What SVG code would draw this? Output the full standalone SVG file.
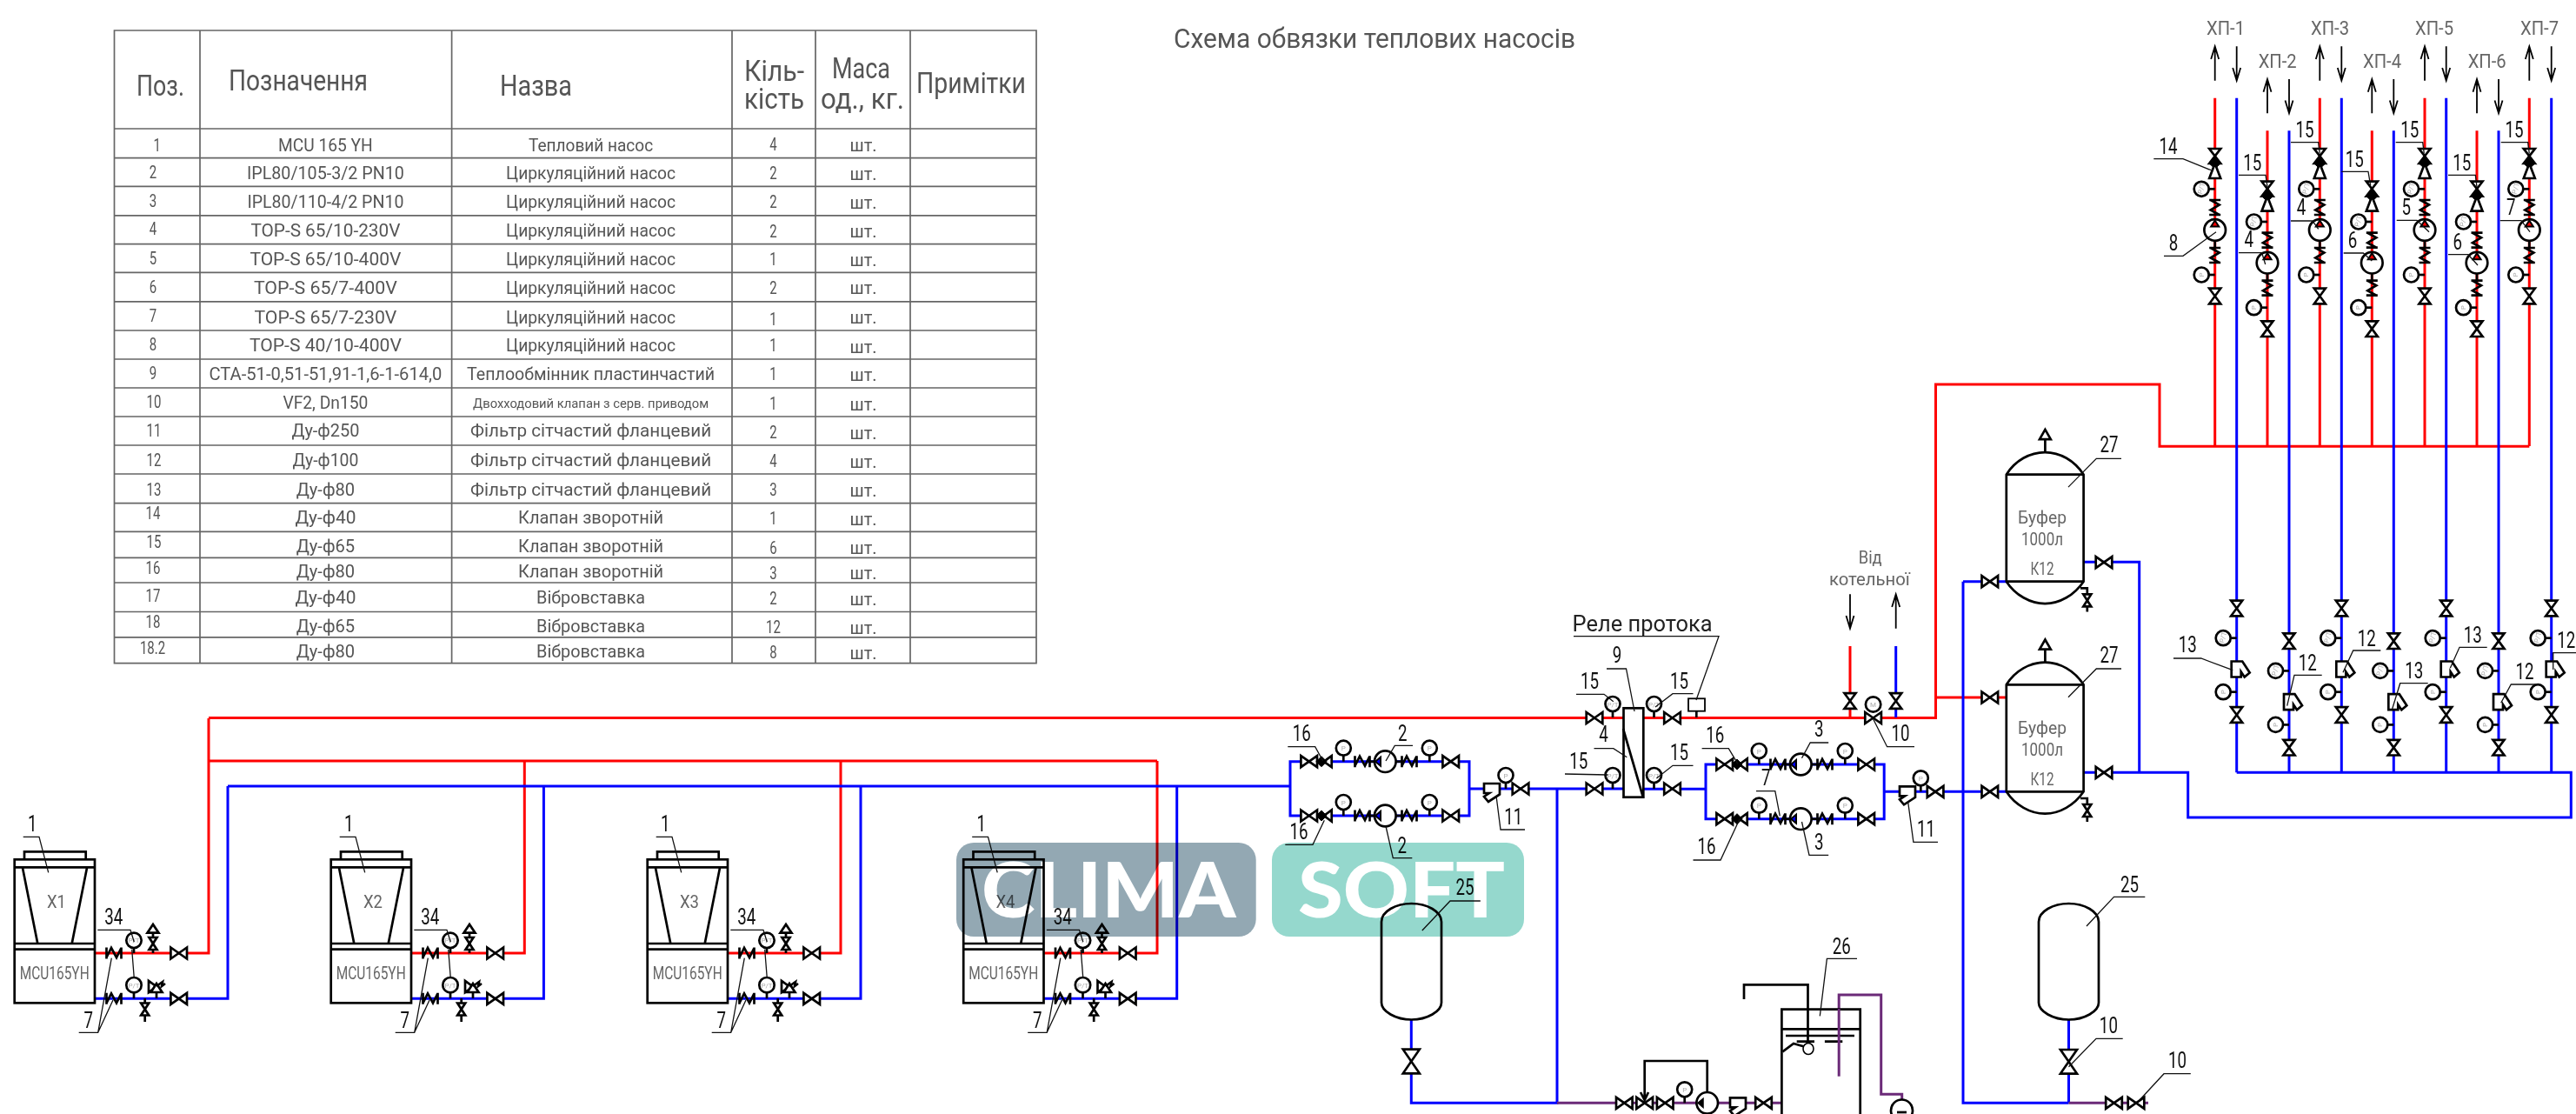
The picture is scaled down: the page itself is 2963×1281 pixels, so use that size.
<svg xmlns="http://www.w3.org/2000/svg" width="2963" height="1281" viewBox="0 0 2963 1281">
<style>
text{font-family:Roboto,"Liberation Sans",sans-serif}
.bg{fill:#fff}
.r,.b,.p{fill:none;stroke-width:3;stroke-linejoin:miter}
.r{stroke:#f00}.b{stroke:#00f}.p{stroke:#6b2a78}
.s{fill:#fff;stroke:#000;stroke-width:2.7;stroke-linejoin:miter}
.o{fill:none;stroke:#000;stroke-width:2.7}
.k{fill:#000;stroke:#000;stroke-width:1}
.ld{fill:none;stroke:#111;stroke-width:1.3}
.tb{fill:none;stroke:#666;stroke-width:1.7}
.n{font-size:26px;fill:#111;text-anchor:middle;transform-box:fill-box;transform-origin:center;transform:scaleX(.72)}
.g{fill:#666;text-anchor:middle;font-size:21px}
.c{fill:#555;text-anchor:middle;font-size:20px}
#col-pos text,#col-qty text{transform-box:fill-box;transform-origin:center;transform:scaleX(.75)}
.h{fill:#555;font-size:33px}
.mk{fill:#aaa;font-size:8px;text-anchor:middle}
.xp{fill:#666;font-size:22px;text-anchor:middle}
.ar{fill:none;stroke:#000;stroke-width:1.8}
</style>
<defs>
<path id="vh" class="s" d="M-9.3-6.5V6.5L9.3-6.5V6.5Z"/>
<path id="vv" class="s" d="M-6.5-8.8H6.5L-6.5 8.8H6.5Z"/>
<path id="vs" class="s" d="M-4.5-7H4.5L-4.5 7H4.5Z"/>
<path id="vb" class="s" d="M-9.5-13.8H9.5L-9.5 13.8H9.5Z"/>
<path id="fv" class="o" d="M-6.5-8.5H6.5M-6.5 8.5H6.5M-5-8.5L5-3-5 3 5 8.5"/>
<path id="fh" class="o" d="M-8.5-6.5V6.5M8.5-6.5V6.5M-8.5 5L-3-6 3 5 8.5-6"/>
<path id="st" class="s" d="M-6 0H6.5L15 13 9 18 5 12V18H-6Z"/>
<g id="gl"><path class="o" d="M-7 0H0"/><circle class="s" cx="-15.5" r="8.5"/></g>
<g id="gu"><path class="o" d="M0-7V0"/><circle class="s" cy="-15.5" r="8.5"/></g>
<g id="glp"><use href="#gl"/><text class="mk" transform="translate(-13 0) rotate(-90)" y="0">P</text></g>
<g id="glt"><use href="#gl"/><text class="mk" transform="translate(-13 0) rotate(-75)" y="0">P/T</text></g>
<g id="gup"><use href="#gu"/><text class="mk" x="0" y="-12.5">P</text></g>
<g id="gut"><use href="#gu"/><text class="mk" x="0" y="-12.5">P/T</text></g>
<g id="pv"><circle class="s" r="12.3"/></g>
<g id="pumpRow">
<use href="#vh" x="21.7"/>
<path class="s" d="M47.7-6.5V6.5L38.7 0Z"/>
<path class="k" d="M30 0L36-6 42 0 36 6Z"/>
<use href="#gup" x="61.3"/>
<use href="#fh" x="83"/>
<use href="#pv" x="109.3"/>
<path d="M98 0L104-5V5Z" fill="#00f" stroke="#000" stroke-width="2"/>
<path class="o" d="M90 0H96"/>
<path class="o" d="M122 0H128"/>
<use href="#fh" x="137"/>
<use href="#gup" x="160.3"/>
<use href="#vh" x="184.7"/>
</g>
<g id="riserKit">
<path class="s" d="M-6.5 171H6.5L-6.5 188H6.5Z"/>
<path class="k" d="M-6.5 188L0 181 6.5 188 0 194Z"/>
<path class="s" d="M0 188L-6.5 205H6.5Z"/>
<use href="#glt" y="217.3"/>
<use href="#fv" y="238.5"/>
<use href="#pv" y="264.5"/>
<path d="M-4.5 260.5L0 253.5 4.5 260.5Z" fill="#f00" stroke="#000" stroke-width="2"/>
<path class="o" d="M0 277V285"/>
<use href="#fv" y="293.5"/>
<use href="#glp" y="316"/>
<use href="#vv" y="340.5"/>
</g>
<g id="retKit">
<use href="#vv" y="699.5"/>
<use href="#glt" y="733.7"/>
<use href="#st" y="760.5"/>
<use href="#glp" y="795.7"/>
<use href="#vv" y="822"/>
</g>
<g id="unitBody">
<rect class="s" x="16.7" y="988.3" width="92.3" height="165"/>
<path class="o" d="M28 988V979.3H98.7V988M16.7 997.3H109M16.7 1085H109M16.7 1091.7H109M26 998L43.3 1085M100 998L82.7 1085"/>
<use href="#fh" x="131" y="1096"/>
<use href="#fh" x="131" y="1148.3"/>
<path class="o" d="M154 1090V1096M154 1141V1148.3M176 1096V1072M180 1148V1141M166.7 1148V1175"/>
<circle class="s" cx="154" cy="1081.3" r="8.7"/>
<circle class="s" cx="154" cy="1132.7" r="8.7"/>
<text class="mk" x="154" y="1084">P/T</text>
<text class="mk" x="154" y="1135.5">P/T</text>
<use href="#vs" x="176" y="1085"/>
<path class="s" d="M169.5 1072.7H182.5L176 1063Z"/>
<use href="#vs" x="166.7" y="1160.5"/>
<path class="s" d="M171 1128V1141L180 1134.5Z"/>
<path class="s" d="M173.5 1141H186.5L180 1131Z"/>
<path class="o" d="M180 1134L187 1129 186 1134 190 1131"/>
<use href="#vh" x="205.7" y="1096"/>
<use href="#vh" x="205.7" y="1148.3"/>
<path class="ld" d="M26.7 962.3H45L55.7 1003.3M112.3 1069.3H150L154.3 1083.3M151.7 1091.7L154.3 1125M90.7 1187.3H112.7L128.3 1101.7M112.7 1187.3L130 1150"/>
</g>
<path id="tank" class="s" d="M-34.5 21C-34.5 9-18 0 0 0S34.5 9 34.5 21V114C34.5 124 18 133.5 0 133.5S-34.5 124-34.5 114Z"/>
<g id="buffer">
<path class="s" d="M2307.8 787.3C2318 771 2335 761.7 2352.2 761.7S2386 771 2396.6 787.3V910.3C2386 926 2369 935.7 2352.2 935.7S2318 926 2307.8 910.3Z"/>
<path class="o" d="M2307.8 787.3H2396.6M2307.8 910.3H2396.6M2352.4 762V745M2393 918H2400.8V945"/>
<path class="s" d="M2346 746.7H2358.8L2352.4 735.5Z"/>
<use href="#vs" x="2400.8" y="932"/>
<use href="#vh" x="2288.8" y="910.3"/>
<use href="#vh" x="2420" y="888.3"/>
<path class="ld" d="M2440 769H2411.3L2379 801.7"/>
</g>
</defs>
<rect class="bg" width="2963" height="1281"/>

<g id="connectors">
<path class="r" d="M109 1096H240V826M473 1096H603.3V875M837 1096H967V875M1200.5 1096H1331V875M240 875H1331M240 825.5H2226.5V442H2484V513.3H2909.3M2226.5 802H2308M2128 743V825M2547.7 112.7V513M2608 150.3V513M2668.3 112.7V513M2728.3 150.3V513M2789 112.7V513M2849 150.3V513M2909.3 112.7V513"/>
<path class="b" d="M109 1148.3H262V904M473 1148.3H625.4V904M837 1148.3H990V904M1200.5 1148.3H1353.7V904M262 904H1484M1484 875.7V938H1690V875.7ZM1690 907H1867.5M1791 907V1268.3H1623.3V1172M1890 907.3H1962M1962 879V941.7H2167.2V879ZM2167.2 910.3H2308M2258 668.7V1268.3H2379.5M2258 668.7H2308M2379.5 1173V1268.3M2396.6 646.3H2460.7V888.3M2396.6 888.3H2516.7V940H2957.3V888.3H2572.7M2572.7 112.7V888.3M2633 150.3V888.3M2693.3 112.7V888.3M2753.3 150.3V888.3M2813.7 112.7V888.3M2874 150.3V888.3M2934.7 112.7V888.3M2180.7 743V825"/>
<path class="p" d="M1791 1268.3H2049.4M2115.2 1237.7V1144H2163.7V1258.3H2187.7V1264M2379.5 1268.3H2471"/>
</g>

<g id="table">
<path class="tb" d="M131.5 35H1192V762.7H131.5ZM131.5 148H1192M131.5 181.6H1192M131.5 214.4H1192M131.5 247.8H1192M131.5 280.6H1192M131.5 313.4H1192M131.5 346.8H1192M131.5 380H1192M131.5 413H1192M131.5 446H1192M131.5 479H1192M131.5 512H1192M131.5 545H1192M131.5 578.6H1192M131.5 611.4H1192M131.5 641.3H1192M131.5 670H1192M131.5 703.5H1192M131.5 732.8H1192M230 35V762.7M519.6 35V762.7M842 35V762.7M938 35V762.7M1047 35V762.7"/>
<text class="h" x="157" y="110" textLength="55" lengthAdjust="spacingAndGlyphs">Поз.</text>
<text class="h" x="263" y="103.5" textLength="160" lengthAdjust="spacingAndGlyphs">Позначення</text>
<text class="h" x="575" y="110" textLength="83" lengthAdjust="spacingAndGlyphs">Назва</text>
<text class="h" x="856" y="92.5" textLength="69" lengthAdjust="spacingAndGlyphs">Кіль-</text>
<text class="h" x="856" y="125" textLength="69" lengthAdjust="spacingAndGlyphs">кість</text>
<text class="h" x="957" y="90" textLength="67" lengthAdjust="spacingAndGlyphs">Маса</text>
<text class="h" x="944" y="125" textLength="96" lengthAdjust="spacingAndGlyphs">од., кг.</text>
<text class="h" x="1054" y="106.5" textLength="126" lengthAdjust="spacingAndGlyphs">Примітки</text>
<g id="col-pos">
<text class="c" x="180.7" y="174">1</text><text class="c" x="176" y="205">2</text><text class="c" x="176" y="238">3</text><text class="c" x="176" y="270">4</text><text class="c" x="176" y="304">5</text><text class="c" x="176" y="337">6</text><text class="c" x="176" y="370">7</text><text class="c" x="176" y="403">8</text><text class="c" x="176" y="436">9</text><text class="c" x="177" y="469">10</text><text class="c" x="177" y="502">11</text><text class="c" x="177" y="536">12</text><text class="c" x="177" y="570">13</text><text class="c" x="176" y="597">14</text><text class="c" x="177" y="630">15</text><text class="c" x="176" y="660">16</text><text class="c" x="176" y="692">17</text><text class="c" x="176" y="722">18</text><text class="c" x="175.5" y="752">18.2</text>
</g>
<g id="col-code">
<text class="c" x="374.4" y="174" textLength="108.6" lengthAdjust="spacingAndGlyphs">MCU 165 YH</text>
<text class="c" x="374.4" y="206" textLength="181" lengthAdjust="spacingAndGlyphs">IPL80/105-3/2 PN10</text>
<text class="c" x="374.4" y="239" textLength="180" lengthAdjust="spacingAndGlyphs">IPL80/110-4/2 PN10</text>
<text class="c" x="374.4" y="272" textLength="172" lengthAdjust="spacingAndGlyphs">TOP-S 65/10-230V</text>
<text class="c" x="374.4" y="305" textLength="174" lengthAdjust="spacingAndGlyphs">TOP-S 65/10-400V</text>
<text class="c" x="374.4" y="338" textLength="165" lengthAdjust="spacingAndGlyphs">TOP-S 65/7-400V</text>
<text class="c" x="374.4" y="372" textLength="164" lengthAdjust="spacingAndGlyphs">TOP-S 65/7-230V</text>
<text class="c" x="374.4" y="404" textLength="175" lengthAdjust="spacingAndGlyphs">TOP-S 40/10-400V</text>
<text class="c" x="374.4" y="437" textLength="268" lengthAdjust="spacingAndGlyphs">СТА-51-0,51-51,91-1,6-1-614,0</text>
<text class="c" x="374.4" y="470" textLength="98" lengthAdjust="spacingAndGlyphs">VF2, Dn150</text>
<text class="c" x="374.4" y="502" textLength="78" lengthAdjust="spacingAndGlyphs">Ду-ф250</text>
<text class="c" x="374.4" y="536" textLength="76" lengthAdjust="spacingAndGlyphs">Ду-ф100</text>
<text class="c" x="374.4" y="570" textLength="67.5" lengthAdjust="spacingAndGlyphs">Ду-ф80</text>
<text class="c" x="374.4" y="602" textLength="70" lengthAdjust="spacingAndGlyphs">Ду-ф40</text>
<text class="c" x="374.4" y="635" textLength="67.5" lengthAdjust="spacingAndGlyphs">Ду-ф65</text>
<text class="c" x="374.4" y="664" textLength="67.5" lengthAdjust="spacingAndGlyphs">Ду-ф80</text>
<text class="c" x="374.4" y="694" textLength="70" lengthAdjust="spacingAndGlyphs">Ду-ф40</text>
<text class="c" x="374.4" y="727" textLength="67.5" lengthAdjust="spacingAndGlyphs">Ду-ф65</text>
<text class="c" x="374.4" y="756" textLength="67.5" lengthAdjust="spacingAndGlyphs">Ду-ф80</text>
</g>
<g id="col-name">
<text class="c" x="679.6" y="174" textLength="143" lengthAdjust="spacingAndGlyphs">Тепловий насос</text>
<text class="c" x="679.6" y="206" textLength="195" lengthAdjust="spacingAndGlyphs">Циркуляційний насос</text>
<text class="c" x="679.6" y="239" textLength="195" lengthAdjust="spacingAndGlyphs">Циркуляційний насос</text>
<text class="c" x="679.6" y="272" textLength="195" lengthAdjust="spacingAndGlyphs">Циркуляційний насос</text>
<text class="c" x="679.6" y="305" textLength="195" lengthAdjust="spacingAndGlyphs">Циркуляційний насос</text>
<text class="c" x="679.6" y="338" textLength="195" lengthAdjust="spacingAndGlyphs">Циркуляційний насос</text>
<text class="c" x="679.6" y="372" textLength="195" lengthAdjust="spacingAndGlyphs">Циркуляційний насос</text>
<text class="c" x="679.6" y="404" textLength="195" lengthAdjust="spacingAndGlyphs">Циркуляційний насос</text>
<text class="c" x="679.6" y="437" textLength="285" lengthAdjust="spacingAndGlyphs">Теплообмінник пластинчастий</text>
<text class="c" x="679.6" y="469" textLength="271" lengthAdjust="spacingAndGlyphs" style="font-size:14px">Двохходовий клапан з серв. приводом</text>
<text class="c" x="679.6" y="502" textLength="277" lengthAdjust="spacingAndGlyphs">Фільтр сітчастий фланцевий</text>
<text class="c" x="679.6" y="536" textLength="277" lengthAdjust="spacingAndGlyphs">Фільтр сітчастий фланцевий</text>
<text class="c" x="679.6" y="570" textLength="277" lengthAdjust="spacingAndGlyphs">Фільтр сітчастий фланцевий</text>
<text class="c" x="679.6" y="602" textLength="167" lengthAdjust="spacingAndGlyphs">Клапан зворотній</text>
<text class="c" x="679.6" y="635" textLength="167" lengthAdjust="spacingAndGlyphs">Клапан зворотній</text>
<text class="c" x="679.6" y="664" textLength="167" lengthAdjust="spacingAndGlyphs">Клапан зворотній</text>
<text class="c" x="679.6" y="694" textLength="125" lengthAdjust="spacingAndGlyphs">Вібровставка</text>
<text class="c" x="679.6" y="727" textLength="125" lengthAdjust="spacingAndGlyphs">Вібровставка</text>
<text class="c" x="679.6" y="756" textLength="125" lengthAdjust="spacingAndGlyphs">Вібровставка</text>
</g>
<g id="col-qty">
<text class="c" x="889.4" y="173">4</text><text class="c" x="889.4" y="206.5">2</text><text class="c" x="889.4" y="239">2</text><text class="c" x="889.4" y="272.6">2</text><text class="c" x="889.4" y="305">1</text><text class="c" x="889.4" y="338">2</text><text class="c" x="889.4" y="374">1</text><text class="c" x="889.4" y="404">1</text><text class="c" x="889.4" y="437">1</text><text class="c" x="889.4" y="471">1</text><text class="c" x="889.4" y="504">2</text><text class="c" x="889.4" y="537">4</text><text class="c" x="889.4" y="570">3</text><text class="c" x="889.4" y="603">1</text><text class="c" x="889.4" y="637">6</text><text class="c" x="889.4" y="666">3</text><text class="c" x="889.4" y="695">2</text><text class="c" x="889.4" y="728">12</text><text class="c" x="889.4" y="757">8</text>
</g>
<g id="col-unit">
<text class="c" x="993" y="174">шт.</text><text class="c" x="993" y="206.5">шт.</text><text class="c" x="993" y="240">шт.</text><text class="c" x="993" y="272.6">шт.</text><text class="c" x="993" y="306">шт.</text><text class="c" x="993" y="338">шт.</text><text class="c" x="993" y="372">шт.</text><text class="c" x="993" y="405.5">шт.</text><text class="c" x="993" y="438">шт.</text><text class="c" x="993" y="472">шт.</text><text class="c" x="993" y="505">шт.</text><text class="c" x="993" y="538">шт.</text><text class="c" x="993" y="571">шт.</text><text class="c" x="993" y="604">шт.</text><text class="c" x="993" y="637">шт.</text><text class="c" x="993" y="666">шт.</text><text class="c" x="993" y="695.5">шт.</text><text class="c" x="993" y="729">шт.</text><text class="c" x="993" y="758">шт.</text>
</g>
</g>

<text id="title" x="1350" y="55" font-size="32" fill="#555" textLength="462" lengthAdjust="spacingAndGlyphs">Схема обвязки теплових насосів</text>

<g id="hp-1"><use href="#unitBody"/>
<text class="g" x="65" y="1044" textLength="22" lengthAdjust="spacingAndGlyphs">X1</text><text class="g" x="62.7" y="1126" textLength="80" lengthAdjust="spacingAndGlyphs">MCU165YH</text>
<text class="n" x="37.3" y="956">1</text><text class="n" x="130.7" y="1063">34</text><text class="n" x="101.7" y="1181.7">7</text></g>
<g id="hp-2" transform="translate(364 0)"><use href="#unitBody"/>
<text class="g" x="65" y="1044" textLength="22" lengthAdjust="spacingAndGlyphs">X2</text><text class="g" x="62.7" y="1126" textLength="80" lengthAdjust="spacingAndGlyphs">MCU165YH</text>
<text class="n" x="37.3" y="956">1</text><text class="n" x="130.7" y="1063">34</text><text class="n" x="101.7" y="1181.7">7</text></g>
<g id="hp-3" transform="translate(728 0)"><use href="#unitBody"/>
<text class="g" x="65" y="1044" textLength="22" lengthAdjust="spacingAndGlyphs">X3</text><text class="g" x="62.7" y="1126" textLength="80" lengthAdjust="spacingAndGlyphs">MCU165YH</text>
<text class="n" x="37.3" y="956">1</text><text class="n" x="130.7" y="1063">34</text><text class="n" x="101.7" y="1181.7">7</text></g>
<g id="hp-4" transform="translate(1091.5 0)"><use href="#unitBody"/>
<text class="g" x="65" y="1044" textLength="22" lengthAdjust="spacingAndGlyphs">X4</text><text class="g" x="62.7" y="1126" textLength="80" lengthAdjust="spacingAndGlyphs">MCU165YH</text>
<text class="n" x="37.3" y="956">1</text><text class="n" x="130.7" y="1063">34</text><text class="n" x="101.7" y="1181.7">7</text></g>

<g id="pumps-a">
<use href="#pumpRow" x="1484" y="875.7"/><use href="#pumpRow" x="1484" y="938"/>
<path class="ld" d="M1481.3 858.7H1512.7L1521.7 875M1625 857.3H1604.3L1594 875M1478.3 971.3H1510L1523.3 943.3M1624.3 986.7H1602.3L1594 950"/>
<text class="n" x="1497.3" y="852.3">16</text><text class="n" x="1613.3" y="852.3">2</text><text class="n" x="1494" y="965">16</text><text class="n" x="1612.7" y="980.7">2</text>
</g>
<g id="filter-a">
<use href="#st" transform="translate(1725 907) rotate(90)"/>
<use href="#gup" x="1732" y="907"/><use href="#vh" x="1749" y="907"/>
<path class="ld" d="M1754 954H1726L1721 915"/><text class="n" x="1740.7" y="948.3">11</text>
</g>
<g id="heat-exchanger">
<use href="#vh" x="1834" y="825.5"/><use href="#vh" x="1834" y="907"/><use href="#vh" x="1923.5" y="825.5"/><use href="#vh" x="1923.5" y="907"/>
<use href="#gut" x="1855" y="825"/><use href="#gut" x="1855" y="907"/><use href="#gut" x="1902.5" y="825"/><use href="#gut" x="1902.5" y="907"/>
<rect class="s" x="1867.5" y="814.3" width="22.8" height="102.4"/>
<path class="o" d="M1867 838L1890 917"/>
<path class="ld" d="M1848 769H1870.5L1880 818M1813 798.3H1845L1855.8 806.7M1947.5 797.7H1924L1904 813M1833.5 860.7H1855.8L1871.3 870.7M1800 890L1849.4 891M1947.5 880.3H1924L1905.4 895"/>
<text class="n" x="1860" y="761.7">9</text><text class="n" x="1828.4" y="792">15</text><text class="n" x="1931.5" y="792">15</text><text class="n" x="1844.4" y="852.7">4</text><text class="n" x="1815.8" y="884">15</text><text class="n" x="1931.5" y="874.3">15</text>
</g>
<g id="flow-relay">
<path class="o" d="M1951.3 817.7V825"/><rect class="s" x="1942" y="803.3" width="19" height="14.4" style="stroke-width:1.8"/>
<path class="ld" d="M1810 731.7H1977L1951 805"/>
<text x="1808.6" y="725.7" font-size="26" fill="#222" textLength="161" lengthAdjust="spacingAndGlyphs">Реле протока</text>
</g>
<g id="pumps-b">
<use href="#pumpRow" x="1962" y="879"/><use href="#pumpRow" x="1962" y="941.7"/>
<path class="ld" d="M1957.6 860.7H1988.3L1998.9 878.3M2103.2 854H2082.2L2072.5 871.7M2020 909.7H2041.8L2047.3 938.3M2103.2 983.3H2081L2072.5 945M1947.5 989H1979L2001 941.7"/>
<text class="n" x="1972.8" y="854">16</text><text class="n" x="2092.3" y="847.3">3</text><text class="n" x="2031.3" y="903.3">7</text><text class="n" x="2092.3" y="976.7">3</text><text class="n" x="1963" y="981.7">16</text>
</g>
<g id="filter-b">
<use href="#st" transform="translate(2203 910.3) rotate(90)"/>
<use href="#gup" x="2209.3" y="910.3"/><use href="#vh" x="2226.1" y="910.3"/>
<path class="ld" d="M2229 968.3H2200.9L2194.6 921.7"/><text class="n" x="2215.6" y="962.3">11</text>
</g>
<g id="boiler-feed">
<path class="ar" d="M2128 683.3V722.7M2123.5 708L2128 722.7 2132.5 708M2180.7 722.7V683.3M2176.2 698L2180.7 683.3 2185.2 698"/>
<use href="#vv" x="2128" y="806"/><use href="#vv" x="2180.7" y="806"/>
<text class="g" x="2151.2" y="647.7" textLength="27" lengthAdjust="spacingAndGlyphs">Від</text><text class="g" x="2150.4" y="673.3" textLength="93" lengthAdjust="spacingAndGlyphs">котельної</text>
<use href="#vh" x="2154.6" y="825.5"/>
<circle class="s" cx="2154.6" cy="810" r="8.7"/><text class="mk" x="2154.6" y="813">M</text>
<path class="ld" d="M2202 858.7H2170.6L2154.6 826.7"/><text class="n" x="2186" y="852.3">10</text>
</g>
<g id="buffer-1"><use href="#buffer" y="-241.6"/><use href="#vh" x="2288.8" y="802"/>
<text class="n" x="2426" y="520">27</text>
<text class="g" x="2349" y="602.4" textLength="56" lengthAdjust="spacingAndGlyphs">Буфер</text><text class="g" x="2349" y="627" textLength="48" lengthAdjust="spacingAndGlyphs">1000л</text><text class="g" x="2349" y="661.4" textLength="27" lengthAdjust="spacingAndGlyphs">К12</text></g>
<g id="buffer-2"><use href="#buffer"/>
<text class="n" x="2426" y="761.7">27</text>
<text class="g" x="2349" y="844" textLength="56" lengthAdjust="spacingAndGlyphs">Буфер</text><text class="g" x="2349" y="868.7" textLength="48" lengthAdjust="spacingAndGlyphs">1000л</text><text class="g" x="2349" y="903" textLength="27" lengthAdjust="spacingAndGlyphs">К12</text></g>

<g id="tank-25-a"><use href="#tank" x="1623.5" y="1039"/><use href="#vb" x="1623.3" y="1220.5"/>
<path class="ld" d="M1702.8 1036H1668L1635.8 1070"/><text class="n" x="1685" y="1029.3">25</text></g>
<g id="tank-25-b"><use href="#tank" x="2379.5" y="1039"/><use href="#vb" x="2379.5" y="1220.8"/>
<path class="ld" d="M2467.3 1031.3H2431.5L2400 1065M2441.7 1194.3H2411L2379.5 1226.7M2519.8 1234.7H2489L2461 1265"/>
<text class="n" x="2449.4" y="1025.7">25</text><text class="n" x="2425.4" y="1188.3">10</text><text class="n" x="2504.5" y="1228.3">10</text>
<use href="#vh" x="2431.5" y="1268.3"/><use href="#vh" x="2457" y="1268.3"/></g>
<g id="make-up-line">
<use href="#vh" x="1868.3" y="1268.3"/><use href="#vh" x="1891.7" y="1268.3"/><use href="#vh" x="1915.2" y="1268.3"/>
<use href="#gup" x="1937.7" y="1268.3"/>
<use href="#pv" x="1963.7" y="1268.3"/><path d="M1953 1268.3L1959 1263.3V1273.3Z" fill="#000" stroke="#000" stroke-width="1.5"/>
<path class="o" d="M1891.7 1262V1220H1963.7V1256M1887 1256L1891.7 1265 1896 1256"/>
<use href="#st" transform="translate(2008 1268.3) rotate(90)"/>
<use href="#vh" x="2028.5" y="1268.3"/>
</g>
<g id="tank-26">
<path class="s" d="M2049.4 1281V1160.7H2139.7V1281"/>
<path class="o" d="M2049.4 1183.3H2139.7M2054 1191H2133M2066.7 1197.7H2087M2098.9 1197.7H2119.3M2006 1149V1132.3H2079.5V1200M2050.4 1209.3L2063 1200 2077 1204"/>
<ellipse class="s" cx="2080" cy="1206" rx="6" ry="6.5" style="stroke-width:1.6"/>
<path class="p" d="M2115.2 1237.7V1160"/>
<circle class="s" cx="2187.5" cy="1277" r="12.5"/><path class="o" d="M2182 1279H2193"/>
<path class="ld" d="M2136 1102.3H2101.4L2093.3 1168.3"/><text class="n" x="2118.3" y="1096.7">26</text>
</g>

<g id="supply-risers">
<g id="riser-1" transform="translate(2547.7 0)"><use href="#riserKit"/></g>
<g id="riser-2" transform="translate(2608 37.7)"><use href="#riserKit"/></g>
<g id="riser-3" transform="translate(2668.3 0)"><use href="#riserKit"/></g>
<g id="riser-4" transform="translate(2728.3 37.7)"><use href="#riserKit"/></g>
<g id="riser-5" transform="translate(2789 0)"><use href="#riserKit"/></g>
<g id="riser-6" transform="translate(2849 37.7)"><use href="#riserKit"/></g>
<g id="riser-7" transform="translate(2909.3 0)"><use href="#riserKit"/></g>
<path class="ld" d="M2477.3 182.7H2511L2543.3 195.7M2489 294.3H2511L2549 266.7M2575 201.3H2606L2608.3 216.7M2575 290.7H2601.7L2605.7 304M2635 163.7H2666.7L2668.3 176.7M2635 254H2660L2666.7 263.3M2693.3 197.3H2724L2726.7 213.3M2695.7 291H2718.3L2728.3 300M2755.7 163.7H2786.7L2788.3 176.7M2756.7 253.3H2780L2794 266.7M2816 201.3H2847.3L2849 215M2816 292.7H2839L2850 305M2876.7 163.7H2907.7L2909.3 176.7M2875.7 253.7H2900L2910 266.7"/>
<text class="n" x="2494" y="176.7">14</text><text class="n" x="2500" y="288.3">8</text><text class="n" x="2590.7" y="195.7">15</text><text class="n" x="2586.7" y="284.3">4</text><text class="n" x="2651" y="157.7">15</text><text class="n" x="2647" y="247.3">4</text><text class="n" x="2708.3" y="191.7">15</text><text class="n" x="2706" y="285">6</text><text class="n" x="2771.7" y="157.7">15</text><text class="n" x="2767.7" y="247.3">5</text><text class="n" x="2831.7" y="195.7">15</text><text class="n" x="2826.7" y="286.7">6</text><text class="n" x="2892" y="157.7">15</text><text class="n" x="2888.3" y="247.3">7</text>
</g>
<g id="return-risers">
<g id="return-1" transform="translate(2572.7 0)"><use href="#retKit"/></g>
<g id="return-2" transform="translate(2633 37.7)"><use href="#retKit"/></g>
<g id="return-3" transform="translate(2693.3 0)"><use href="#retKit"/></g>
<g id="return-4" transform="translate(2753.3 37.7)"><use href="#retKit"/></g>
<g id="return-5" transform="translate(2813.7 0)"><use href="#retKit"/></g>
<g id="return-6" transform="translate(2874 37.7)"><use href="#retKit"/></g>
<g id="return-7" transform="translate(2934.7 0)"><use href="#retKit"/></g>
<path class="ld" d="M2500 757H2531.7L2568.3 770.7M2670.7 776.3H2639L2630.7 811.7M2738.3 748H2706.7L2695 773.3M2792.7 785.7H2760.7L2751.7 815M2860.7 744.3H2829L2818.3 768.3M2920 787H2888.3L2876.7 808.3M2963 750.7H2936.7V770"/>
<text class="n" x="2516.3" y="750">13</text><text class="n" x="2654.3" y="770.7">12</text><text class="n" x="2722.3" y="742.7">12</text><text class="n" x="2776.7" y="780">13</text><text class="n" x="2844.3" y="739">13</text><text class="n" x="2904" y="780.7">12</text><text class="n" x="2951.7" y="745">12</text>
</g>
<g id="riser-labels">
<path class="ar" d="M2547.7 92.7V53.3M2543.2 68L2547.7 53.3 2552.2 68M2572.7 53.3V92.7M2568.2 78L2572.7 92.7 2577.2 78M2668.3 92.7V53.3M2663.8 68L2668.3 53.3 2672.8 68M2693.3 53.3V92.7M2688.8 78L2693.3 92.7 2697.8 78M2789 92.7V53.3M2784.5 68L2789 53.3 2793.5 68M2813.7 53.3V92.7M2809.2 78L2813.7 92.7 2818.2 78M2909.3 92.7V53.3M2904.8 68L2909.3 53.3 2913.8 68M2934.7 53.3V92.7M2930.2 78L2934.7 92.7 2939.2 78M2608 130.3V91M2603.5 105.7L2608 91 2612.5 105.7M2633 91V130.3M2628.5 115.6L2633 130.3 2637.5 115.6M2728.3 130.3V91M2723.8 105.7L2728.3 91 2732.8 105.7M2753.3 91V130.3M2748.8 115.6L2753.3 130.3 2757.8 115.6M2849 130.3V91M2844.5 105.7L2849 91 2853.5 105.7M2874 91V130.3M2869.5 115.6L2874 130.3 2878.5 115.6"/>
<text class="xp" x="2560" y="40" textLength="44" lengthAdjust="spacingAndGlyphs">ХП-1</text><text class="xp" x="2619.7" y="78" textLength="44" lengthAdjust="spacingAndGlyphs">ХП-2</text><text class="xp" x="2680" y="40" textLength="44" lengthAdjust="spacingAndGlyphs">ХП-3</text><text class="xp" x="2740" y="78" textLength="44" lengthAdjust="spacingAndGlyphs">ХП-4</text><text class="xp" x="2800" y="40" textLength="44" lengthAdjust="spacingAndGlyphs">ХП-5</text><text class="xp" x="2860.7" y="78" textLength="44" lengthAdjust="spacingAndGlyphs">ХП-6</text><text class="xp" x="2921" y="40" textLength="44" lengthAdjust="spacingAndGlyphs">ХП-7</text>
</g>

<g id="watermark" style="mix-blend-mode:multiply">
<rect x="1100" y="969" width="344.7" height="108" rx="20" fill="#93a8b3"/>
<rect x="1463" y="969" width="290" height="108" rx="20" fill="#95d8cd"/>
<text x="1129" y="1055" font-size="88" fill="#fff" textLength="292.5" lengthAdjust="spacingAndGlyphs" style="font-family:Lato,'Open Sans',sans-serif;font-weight:900">CLIMA</text>
<text x="1493" y="1055" font-size="88" fill="#fff" textLength="238" lengthAdjust="spacingAndGlyphs" style="font-family:Lato,'Open Sans',sans-serif;font-weight:900">SOFT</text>
</g>
</svg>
